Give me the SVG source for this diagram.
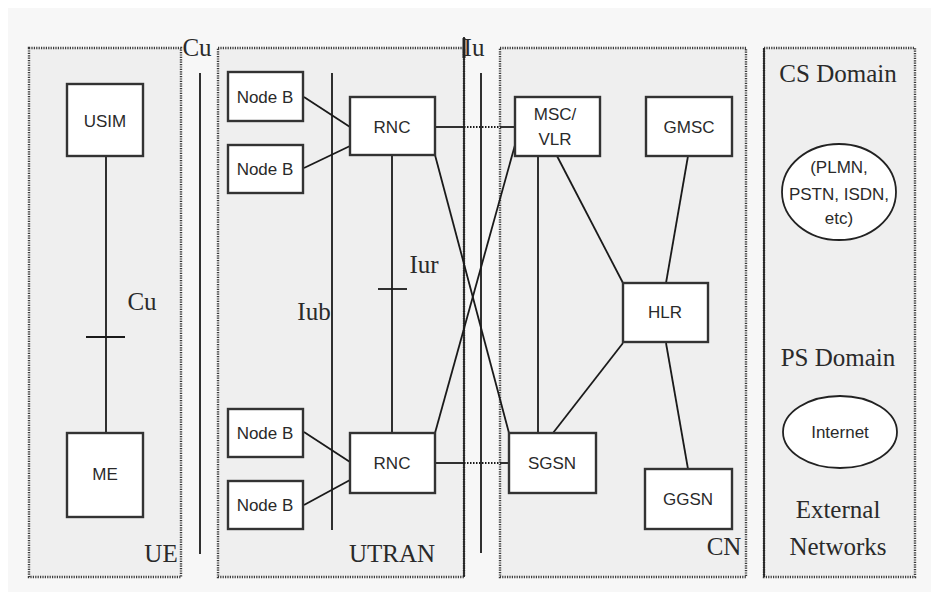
<svg xmlns="http://www.w3.org/2000/svg" width="931" height="592" viewBox="0 0 931 592">
<style>
.area{fill:#efefef;stroke:#3a3a3a;stroke-width:2.4;stroke-dasharray:1.2,1.2}
.solid{fill:none;stroke:#222;stroke-width:1.8}
.nb{fill:#fff;stroke:#333;stroke-width:2.4}
.el{fill:#fff;stroke:#222;stroke-width:1.8}
.t{font-family:"Liberation Sans",Arial,sans-serif;font-size:17px;fill:#2a2a2a;text-anchor:middle}
.s{font-family:"Liberation Serif","Times New Roman",serif;font-size:25px;fill:#2a2a2a;text-anchor:middle}
.ln{fill:none;stroke:#1a1a1a;stroke-width:1.8}
.dot{fill:none;stroke:#1a1a1a;stroke-width:2.2;stroke-dasharray:1.5,1.5}
</style>
<rect x="0" y="0" width="931" height="592" fill="#ffffff"/>
<rect x="8" y="8" width="923" height="584" fill="#f7f7f7"/>

<g id="area-ue">
<rect class="area" x="29" y="48" width="152" height="529"/>
<text class="s" x="161" y="562">UE</text>
</g>
<g id="area-utran">
<rect class="area" x="218" y="48" width="246" height="529"/>
<line class="solid" x1="464" y1="37" x2="464" y2="577"/>
<line x1="464" y1="38" x2="464" y2="58" stroke="#222" stroke-width="3"/>
<text class="s" x="392" y="562">UTRAN</text>
</g>
<g id="area-cn">
<rect class="area" x="500" y="48" width="246" height="529"/>
<text class="s" x="724" y="555">CN</text>
</g>
<g id="area-ext">
<rect class="area" x="764" y="48" width="151" height="529"/>
<line class="solid" x1="764" y1="48" x2="764" y2="577"/>
<text class="s" x="838" y="82">CS Domain</text>
<text class="s" x="838" y="366">PS Domain</text>
<text class="s" x="838" y="518">External</text>
<text class="s" x="838" y="555">Networks</text>
</g>

<g id="connectors">
<line class="ln" x1="106" y1="156" x2="106" y2="433"/>
<line class="ln" x1="86" y1="337" x2="125" y2="337"/>
<line class="ln" x1="200" y1="73" x2="200" y2="554"/>
<line class="ln" x1="332" y1="73" x2="332" y2="530"/>
<line class="ln" x1="481" y1="73" x2="481" y2="553"/>
<line class="ln" x1="304" y1="97" x2="350" y2="127"/>
<line class="ln" x1="304" y1="168" x2="350" y2="146"/>
<line class="ln" x1="304" y1="432" x2="350" y2="462"/>
<line class="ln" x1="304" y1="505" x2="350" y2="480"/>
<line class="ln" x1="392" y1="155" x2="392" y2="433"/>
<line class="ln" x1="378" y1="289" x2="407" y2="289"/>
<line class="ln" x1="435" y1="127" x2="464" y2="127" stroke-width="2.4"/>
<line class="dot" x1="464" y1="127" x2="500" y2="127"/>
<line class="ln" x1="500" y1="127" x2="515" y2="127" stroke-width="2.6"/>
<line class="ln" x1="435" y1="463" x2="464" y2="463"/>
<line class="dot" x1="464" y1="463" x2="500" y2="463"/>
<line class="ln" x1="500" y1="463" x2="509" y2="463"/>
<line class="ln" x1="435" y1="155" x2="509" y2="433"/>
<line class="ln" x1="435" y1="433" x2="515" y2="145"/>
<line class="ln" x1="538" y1="156" x2="538" y2="433"/>
<line class="ln" x1="557" y1="156" x2="623" y2="283"/>
<line class="ln" x1="688" y1="156" x2="666" y2="283"/>
<line class="ln" x1="553" y1="433" x2="623" y2="343"/>
<line class="ln" x1="666" y1="343" x2="688" y2="469"/>
</g>

<g id="labels">
<text class="s" x="197" y="56" font-size="20">Cu</text>
<text class="s" x="474" y="56" font-size="20">Iu</text>
<text class="s" x="142" y="310">Cu</text>
<text class="s" x="424" y="273">Iur</text>
<text class="s" x="314" y="320">Iub</text>
</g>

<g id="usim"><rect class="nb" x="67" y="84" width="76" height="72"/><text class="t" x="105" y="127">USIM</text></g>
<g id="me"><rect class="nb" x="67" y="433" width="76" height="84"/><text class="t" x="105" y="480">ME</text></g>
<g id="nodeb1"><rect class="nb" x="228" y="72" width="75" height="49"/><text class="t" x="265" y="103">Node B</text></g>
<g id="nodeb2"><rect class="nb" x="228" y="145" width="75" height="48"/><text class="t" x="265" y="175">Node B</text></g>
<g id="nodeb3"><rect class="nb" x="228" y="409" width="75" height="48"/><text class="t" x="265" y="439">Node B</text></g>
<g id="nodeb4"><rect class="nb" x="228" y="481" width="75" height="48"/><text class="t" x="265" y="511">Node B</text></g>
<g id="rnc1"><rect class="nb" x="350" y="97" width="85" height="58"/><text class="t" x="392" y="133">RNC</text></g>
<g id="rnc2"><rect class="nb" x="350" y="433" width="85" height="60"/><text class="t" x="392" y="469">RNC</text></g>
<g id="msc"><rect class="nb" x="515" y="97" width="85" height="59"/><text class="t" x="555" y="120">MSC/</text><text class="t" x="555" y="145">VLR</text></g>
<g id="gmsc"><rect class="nb" x="646" y="97" width="86" height="59"/><text class="t" x="689" y="133">GMSC</text></g>
<g id="hlr"><rect class="nb" x="623" y="283" width="85" height="59"/><text class="t" x="665" y="318">HLR</text></g>
<g id="sgsn"><rect class="nb" x="509" y="433" width="87" height="60"/><text class="t" x="552" y="469">SGSN</text></g>
<g id="ggsn"><rect class="nb" x="645" y="469" width="87" height="60"/><text class="t" x="688" y="505">GGSN</text></g>
<g id="plmn"><ellipse class="el" cx="839" cy="192" rx="57" ry="48"/>
<text class="t" x="839" y="173">(PLMN,</text><text class="t" x="839" y="200">PSTN, ISDN,</text><text class="t" x="839" y="224">etc)</text></g>
<g id="internet"><ellipse class="el" cx="840" cy="432" rx="57" ry="36"/><text class="t" x="840" y="438">Internet</text></g>
</svg>
